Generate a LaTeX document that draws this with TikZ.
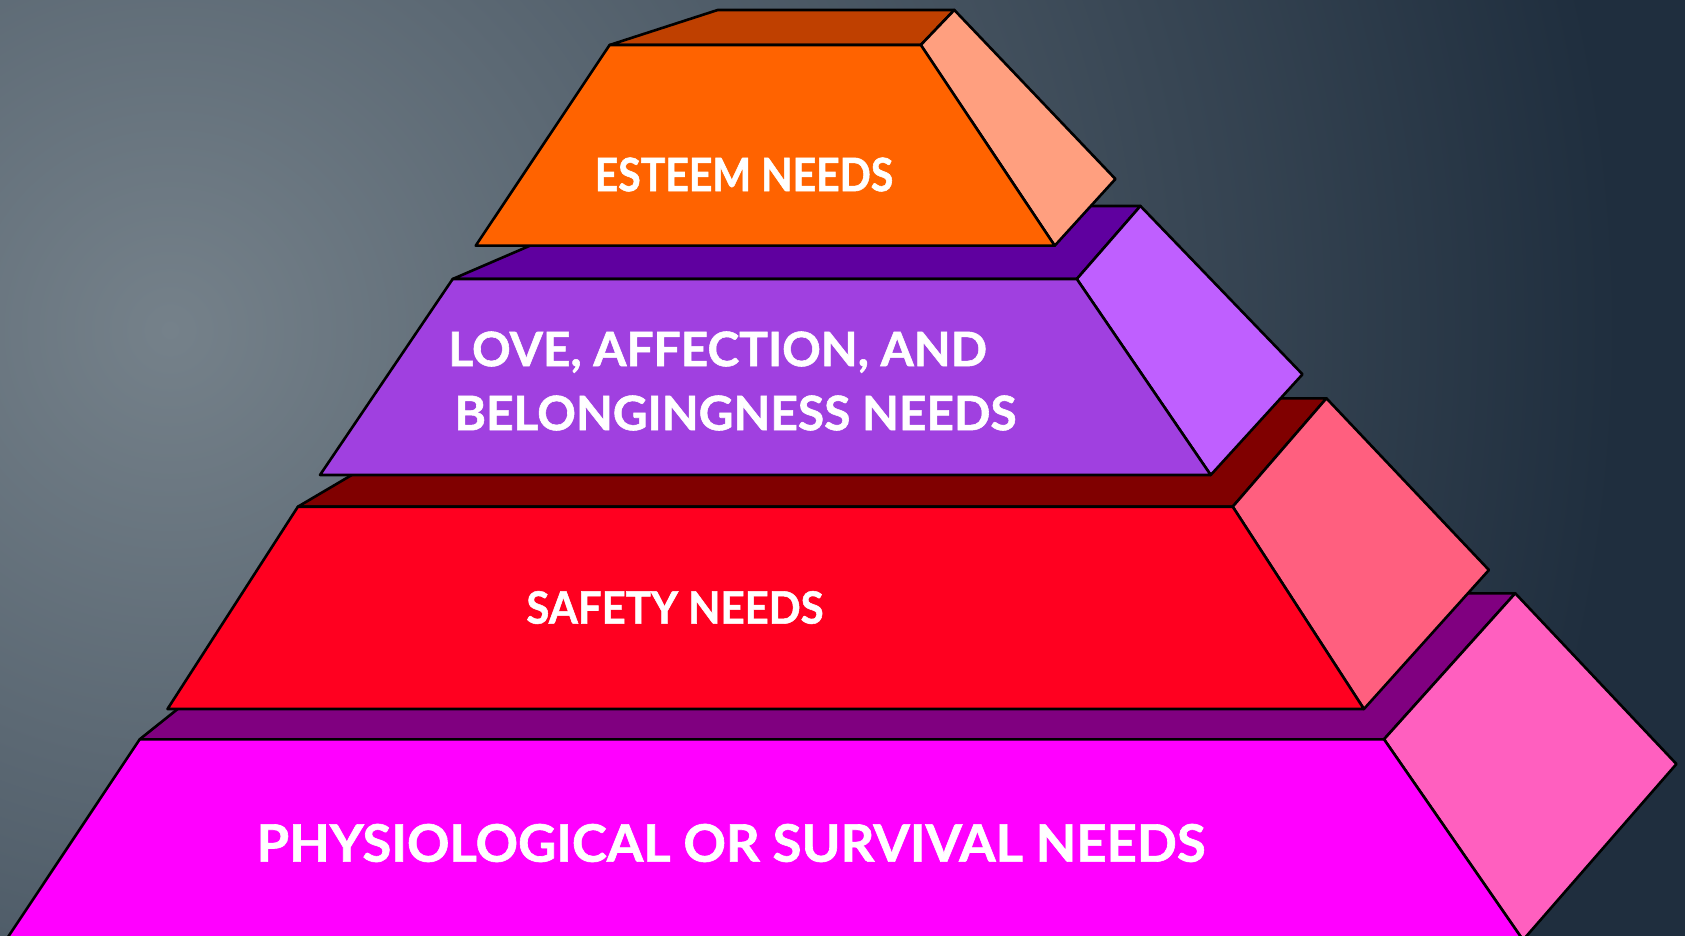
\documentclass[tikz,border=0pt]{standalone}
\usepackage{fontspec}
\newfontfamily\tierfont{Lato}[FakeBold=1.2]

\definecolor{bgmid}{HTML}{75818A}
\definecolor{bgdark}{HTML}{1F2E3E}
\definecolor{esteemfront}{HTML}{FF6300}
\definecolor{esteemtop}{HTML}{BF4000}
\definecolor{esteemside}{HTML}{FF9F7F}
\definecolor{lovefront}{HTML}{A040E0}
\definecolor{lovetop}{HTML}{5F009F}
\definecolor{loveside}{HTML}{BF5FFF}
\definecolor{safetyfront}{HTML}{FF0020}
\definecolor{safetytop}{HTML}{800000}
\definecolor{safetyside}{HTML}{FF5F7F}
\definecolor{physiofront}{HTML}{FF00FF}
\definecolor{physiotop}{HTML}{800080}
\definecolor{physioside}{HTML}{FF5FBF}

\begin{document}
\begin{tikzpicture}[
        x=0.5pt, y=-0.5pt,
        face/.style={draw=black, line width=1.3pt, line join=round},
        tiertext/.style 2 args={text=white, inner sep=0pt,
            font=\tierfont\bfseries\addfontfeatures{FakeStretch=#2}\fontsize{#1}{32}\selectfont},
        ]
        \useasboundingbox (0,0) rectangle (1685,936);
        \clip (0,0) rectangle (1685,936);
        \fill[bgdark] (0,0) rectangle (1685,936);
        \shade[inner color=bgmid, outer color=bgdark] (170,330) circle (1450);

        % bottom tier
        \filldraw[face, fill=physiotop] (139.7,739.3) -- (322.7,593.3) -- (1515.2,593.3) -- (1384,739.3) -- cycle;
        \filldraw[face, fill=physioside] (1384,739.3) -- (1515.2,593.3) -- (1676.4,764) -- (1523,940) -- cycle;
        \filldraw[face, fill=physiofront] (139.7,739.3) -- (1384,739.3) -- (1523,940) -- (6,940) -- cycle;

        % second tier
        \filldraw[face, fill=safetytop] (297.9,506.7) -- (482,398.3) -- (1326.4,398.3) -- (1232.7,506.7) -- cycle;
        \filldraw[face, fill=safetyside] (1232.7,506.7) -- (1326.4,398.3) -- (1488.9,570) -- (1363.9,709) -- cycle;
        \filldraw[face, fill=safetyfront] (297.9,506.7) -- (1232.7,506.7) -- (1363.9,709) -- (167.5,709) -- cycle;

        % third tier
        \filldraw[face, fill=lovetop] (452.7,279) -- (622,206) -- (1140.4,206) -- (1076.8,279) -- cycle;
        \filldraw[face, fill=loveside] (1076.8,279) -- (1140.4,206) -- (1302.5,374.3) -- (1210.7,475) -- cycle;
        \filldraw[face, fill=lovefront] (452.7,279) -- (1076.8,279) -- (1210.7,475) -- (320,475) -- cycle;

        % top tier
        \filldraw[face, fill=esteemtop] (609.6,45) -- (717.7,10) -- (954.3,10) -- (920.8,45) -- cycle;
        \filldraw[face, fill=esteemside] (920.8,45) -- (954.3,10) -- (1115.4,179) -- (1054.7,245.7) -- cycle;
        \filldraw[face, fill=esteemfront] (609.6,45) -- (920.8,45) -- (1054.7,245.7) -- (475.7,245.7) -- cycle;

        \node (esteem) at (744,174.5) [tiertext={23}{0.89}] {ESTEEM NEEDS};
        \node (love) at (729,381) [tiertext={23.7}{1.01}, align=center]
            {LOVE, AFFECTION, AND\hspace*{11.3pt}\\\hspace*{6.5pt}BELONGINGNESS NEEDS};
        \node (safety) at (675,607.5) [tiertext={22.3}{0.94}] {SAFETY NEEDS};
        \node (physio) at (731,843) [tiertext={25.8}{1.02}] {PHYSIOLOGICAL OR SURVIVAL NEEDS};

    \end{tikzpicture}
\end{document}
